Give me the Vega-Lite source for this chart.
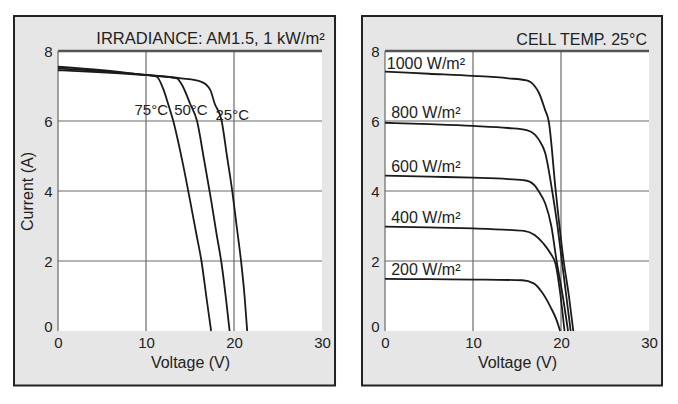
{
  "$schema": "https://vega.github.io/schema/vega-lite/v6.json",
  "background": "white",
  "padding": {"left": 13, "top": 15, "right": 0, "bottom": 0},
  "spacing": 23,
  "config": {
    "view": {"stroke": null},
    "font": "Liberation Sans",
    "text": {"font": "Liberation Sans"},
    "axis": {
      "ticks": false,
      "domain": false,
      "grid": false,
      "labelFontSize": 15,
      "labelColor": "#222222",
      "titleFontSize": 16,
      "titleFontWeight": "normal",
      "titleColor": "#222222"
    }
  },
  "datasets": {
    "plotArea": [{"x": 0, "x2": 30, "y": 0, "y2": 8}],
    "vGrid": [{"x": 0, "y": 0, "y2": 8}, {"x": 10, "y": 0, "y2": 8}, {"x": 20, "y": 0, "y2": 8}],
    "hGrid": [{"y": 2, "x": 0, "x2": 30}, {"y": 4, "x": 0, "x2": 30}, {"y": 6, "x": 0, "x2": 30}],
    "topLine": [{"y": 8, "x": 0, "x2": 30}],
    "tempCurves": [
      {"s": "25", "x": 0, "y": 7.45}, {"s": "25", "x": 5, "y": 7.39}, {"s": "25", "x": 10, "y": 7.31}, {"s": "25", "x": 14, "y": 7.22}, {"s": "25", "x": 16.3, "y": 7.12}, {"s": "25", "x": 17.3, "y": 6.89}, {"s": "25", "x": 17.8, "y": 6.5}, {"s": "25", "x": 18.6, "y": 6.0}, {"s": "25", "x": 19.2, "y": 5.0}, {"s": "25", "x": 19.8, "y": 4.0}, {"s": "25", "x": 20.3, "y": 3.0}, {"s": "25", "x": 20.8, "y": 2.0}, {"s": "25", "x": 21.2, "y": 1.0}, {"s": "25", "x": 21.5, "y": 0},
      {"s": "50", "x": 0, "y": 7.5}, {"s": "50", "x": 5, "y": 7.42}, {"s": "50", "x": 10, "y": 7.32}, {"s": "50", "x": 13.5, "y": 7.22}, {"s": "50", "x": 14.2, "y": 6.98}, {"s": "50", "x": 15.0, "y": 6.5}, {"s": "50", "x": 15.8, "y": 6.0}, {"s": "50", "x": 16.6, "y": 4.89}, {"s": "50", "x": 17.4, "y": 3.74}, {"s": "50", "x": 18.0, "y": 2.8}, {"s": "50", "x": 18.6, "y": 1.9}, {"s": "50", "x": 19.1, "y": 0.9}, {"s": "50", "x": 19.5, "y": 0},
      {"s": "75", "x": 0, "y": 7.55}, {"s": "75", "x": 5, "y": 7.45}, {"s": "75", "x": 9.3, "y": 7.33}, {"s": "75", "x": 11.2, "y": 7.27}, {"s": "75", "x": 12.0, "y": 6.89}, {"s": "75", "x": 12.5, "y": 6.5}, {"s": "75", "x": 13.1, "y": 6.0}, {"s": "75", "x": 14.1, "y": 4.89}, {"s": "75", "x": 15.0, "y": 3.74}, {"s": "75", "x": 15.7, "y": 2.8}, {"s": "75", "x": 16.3, "y": 2.0}, {"s": "75", "x": 16.9, "y": 0.9}, {"s": "75", "x": 17.4, "y": 0}
    ],
    "irrCurves": [
      {"s": "1000", "x": 0, "y": 7.41}, {"s": "1000", "x": 5, "y": 7.35}, {"s": "1000", "x": 10, "y": 7.29}, {"s": "1000", "x": 14, "y": 7.22}, {"s": "1000", "x": 16.1, "y": 7.16}, {"s": "1000", "x": 17.0, "y": 7.0}, {"s": "1000", "x": 17.5, "y": 6.8}, {"s": "1000", "x": 18.2, "y": 6.31}, {"s": "1000", "x": 18.6, "y": 6.0}, {"s": "1000", "x": 19.4, "y": 4.0}, {"s": "1000", "x": 20.3, "y": 2.0}, {"s": "1000", "x": 20.9, "y": 1.0}, {"s": "1000", "x": 21.4, "y": 0},
      {"s": "800", "x": 0, "y": 5.95}, {"s": "800", "x": 5, "y": 5.91}, {"s": "800", "x": 10, "y": 5.86}, {"s": "800", "x": 14, "y": 5.8}, {"s": "800", "x": 16.1, "y": 5.74}, {"s": "800", "x": 17.0, "y": 5.62}, {"s": "800", "x": 17.5, "y": 5.46}, {"s": "800", "x": 18.2, "y": 5.09}, {"s": "800", "x": 19.0, "y": 4.0}, {"s": "800", "x": 19.6, "y": 3.0}, {"s": "800", "x": 20.1, "y": 2.0}, {"s": "800", "x": 20.6, "y": 1.0}, {"s": "800", "x": 21.1, "y": 0},
      {"s": "600", "x": 0, "y": 4.44}, {"s": "600", "x": 5, "y": 4.41}, {"s": "600", "x": 10, "y": 4.38}, {"s": "600", "x": 14, "y": 4.34}, {"s": "600", "x": 16, "y": 4.3}, {"s": "600", "x": 17.0, "y": 4.16}, {"s": "600", "x": 17.5, "y": 3.98}, {"s": "600", "x": 18.2, "y": 3.65}, {"s": "600", "x": 18.9, "y": 3.0}, {"s": "600", "x": 19.5, "y": 2.0}, {"s": "600", "x": 20.2, "y": 1.0}, {"s": "600", "x": 20.8, "y": 0},
      {"s": "400", "x": 0, "y": 2.98}, {"s": "400", "x": 5, "y": 2.96}, {"s": "400", "x": 10, "y": 2.93}, {"s": "400", "x": 14, "y": 2.89}, {"s": "400", "x": 15.8, "y": 2.86}, {"s": "400", "x": 17.0, "y": 2.74}, {"s": "400", "x": 18.0, "y": 2.5}, {"s": "400", "x": 18.8, "y": 2.22}, {"s": "400", "x": 19.4, "y": 1.9}, {"s": "400", "x": 19.9, "y": 1.1}, {"s": "400", "x": 20.4, "y": 0},
      {"s": "200", "x": 0, "y": 1.49}, {"s": "200", "x": 5, "y": 1.48}, {"s": "200", "x": 10, "y": 1.47}, {"s": "200", "x": 15.6, "y": 1.45}, {"s": "200", "x": 16.9, "y": 1.36}, {"s": "200", "x": 17.8, "y": 1.12}, {"s": "200", "x": 18.8, "y": 0.69}, {"s": "200", "x": 19.5, "y": 0.31}, {"s": "200", "x": 19.9, "y": 0}
    ],
    "tempLabels": [
      {"label": "75°C", "x": 10.6, "y": 6.17},
      {"label": "50°C", "x": 15.1, "y": 6.17},
      {"label": "25°C", "x": 19.8, "y": 6.04}
    ],
    "irrLabels": [
      {"label": "1000 W/m²", "x": 0.2, "y": 7.5},
      {"label": "800 W/m²", "x": 0.7, "y": 6.09},
      {"label": "600 W/m²", "x": 0.7, "y": 4.55},
      {"label": "400 W/m²", "x": 0.7, "y": 3.09},
      {"label": "200 W/m²", "x": 0.7, "y": 1.6}
    ]
  },
  "hconcat": [
    {
      "width": 264,
      "height": 280,
      "layer": [
        {
          "data": {"values": [{"x": -5, "x2": 31.48, "y": -1.557, "y2": 9}]},
          "mark": {"type": "rect", "fill": "#e6e6e6", "stroke": "#222222", "strokeWidth": 2},
          "encoding": {
            "x": {"field": "x", "type": "quantitative", "scale": {"domain": [0, 30], "nice": false},
                  "axis": {"title": "Voltage (V)", "values": [0, 10, 20, 30], "labelFlush": false, "labelPadding": 4, "titlePadding": 4, "zindex": 2}},
            "x2": {"field": "x2"},
            "y": {"field": "y", "type": "quantitative", "scale": {"domain": [0, 8], "nice": false},
                  "axis": {"title": "Current (A)", "values": [0, 2, 4, 6, 8], "labelPadding": 6, "titlePadding": 8, "zindex": 2,
                           "labelBaseline": {"condition": {"test": "datum.value == 0", "value": "alphabetic"}, "value": "middle"}}},
            "y2": {"field": "y2"}
          }
        },
        {
          "data": {"name": "plotArea"},
          "mark": {"type": "rect", "fill": "white"},
          "encoding": {"x": {"field": "x", "type": "quantitative"}, "x2": {"field": "x2"}, "y": {"field": "y", "type": "quantitative"}, "y2": {"field": "y2"}}
        },
        {
          "data": {"name": "vGrid"},
          "mark": {"type": "rule", "color": "#6a6a6a", "strokeWidth": 1.2},
          "encoding": {"x": {"field": "x", "type": "quantitative"}, "y": {"field": "y", "type": "quantitative"}, "y2": {"field": "y2"}}
        },
        {
          "data": {"name": "hGrid"},
          "mark": {"type": "rule", "color": "#6a6a6a", "strokeWidth": 1.2},
          "encoding": {"y": {"field": "y", "type": "quantitative"}, "x": {"field": "x", "type": "quantitative"}, "x2": {"field": "x2"}}
        },
        {
          "data": {"name": "topLine"},
          "mark": {"type": "rule", "color": "#555555", "strokeWidth": 2.5},
          "encoding": {"y": {"field": "y", "type": "quantitative"}, "x": {"field": "x", "type": "quantitative"}, "x2": {"field": "x2"}}
        },
        {
          "data": {"name": "tempCurves"},
          "mark": {"type": "line", "color": "#1a1a1a", "strokeWidth": 1.8, "interpolate": "monotone"},
          "encoding": {"x": {"field": "x", "type": "quantitative"}, "y": {"field": "y", "type": "quantitative"}, "detail": {"field": "s"}}
        },
        {
          "data": {"name": "tempLabels"},
          "mark": {"type": "text", "fontSize": 15, "color": "#222222", "align": "center", "baseline": "alphabetic"},
          "encoding": {"x": {"field": "x", "type": "quantitative"}, "y": {"field": "y", "type": "quantitative"}, "text": {"field": "label"}}
        },
        {
          "data": {"values": [{"label": "IRRADIANCE: AM1.5, 1 kW/m²", "x": 30.3, "y": 8.2}]},
          "mark": {"type": "text", "fontSize": 16.5, "color": "#222222", "align": "right", "baseline": "alphabetic"},
          "encoding": {"x": {"field": "x", "type": "quantitative"}, "y": {"field": "y", "type": "quantitative"}, "text": {"field": "label"}}
        }
      ]
    },
    {
      "width": 264,
      "height": 280,
      "layer": [
        {
          "data": {"values": [{"x": -2.614, "x2": 31.48, "y": -1.557, "y2": 9}]},
          "mark": {"type": "rect", "fill": "#e6e6e6", "stroke": "#222222", "strokeWidth": 2},
          "encoding": {
            "x": {"field": "x", "type": "quantitative", "scale": {"domain": [0, 30], "nice": false},
                  "axis": {"title": "Voltage (V)", "values": [0, 10, 20, 30], "labelFlush": false, "labelPadding": 4, "titlePadding": 4, "zindex": 2}},
            "x2": {"field": "x2"},
            "y": {"field": "y", "type": "quantitative", "scale": {"domain": [0, 8], "nice": false},
                  "axis": {"title": null, "values": [0, 2, 4, 6, 8], "labelPadding": 6, "zindex": 2,
                           "labelBaseline": {"condition": {"test": "datum.value == 0", "value": "alphabetic"}, "value": "middle"}}},
            "y2": {"field": "y2"}
          }
        },
        {
          "data": {"name": "plotArea"},
          "mark": {"type": "rect", "fill": "white"},
          "encoding": {"x": {"field": "x", "type": "quantitative"}, "x2": {"field": "x2"}, "y": {"field": "y", "type": "quantitative"}, "y2": {"field": "y2"}}
        },
        {
          "data": {"name": "vGrid"},
          "mark": {"type": "rule", "color": "#6a6a6a", "strokeWidth": 1.2},
          "encoding": {"x": {"field": "x", "type": "quantitative"}, "y": {"field": "y", "type": "quantitative"}, "y2": {"field": "y2"}}
        },
        {
          "data": {"name": "hGrid"},
          "mark": {"type": "rule", "color": "#6a6a6a", "strokeWidth": 1.2},
          "encoding": {"y": {"field": "y", "type": "quantitative"}, "x": {"field": "x", "type": "quantitative"}, "x2": {"field": "x2"}}
        },
        {
          "data": {"name": "topLine"},
          "mark": {"type": "rule", "color": "#555555", "strokeWidth": 2.5},
          "encoding": {"y": {"field": "y", "type": "quantitative"}, "x": {"field": "x", "type": "quantitative"}, "x2": {"field": "x2"}}
        },
        {
          "data": {"name": "irrCurves"},
          "mark": {"type": "line", "color": "#1a1a1a", "strokeWidth": 1.8, "interpolate": "monotone"},
          "encoding": {"x": {"field": "x", "type": "quantitative"}, "y": {"field": "y", "type": "quantitative"}, "detail": {"field": "s"}}
        },
        {
          "data": {"name": "irrLabels"},
          "mark": {"type": "text", "fontSize": 16, "color": "#222222", "align": "left", "baseline": "alphabetic"},
          "encoding": {"x": {"field": "x", "type": "quantitative"}, "y": {"field": "y", "type": "quantitative"}, "text": {"field": "label"}}
        },
        {
          "data": {"values": [{"label": "CELL TEMP. 25°C", "x": 29.77, "y": 8.17}]},
          "mark": {"type": "text", "fontSize": 16, "color": "#222222", "align": "right", "baseline": "alphabetic"},
          "encoding": {"x": {"field": "x", "type": "quantitative"}, "y": {"field": "y", "type": "quantitative"}, "text": {"field": "label"}}
        }
      ]
    }
  ]
}
